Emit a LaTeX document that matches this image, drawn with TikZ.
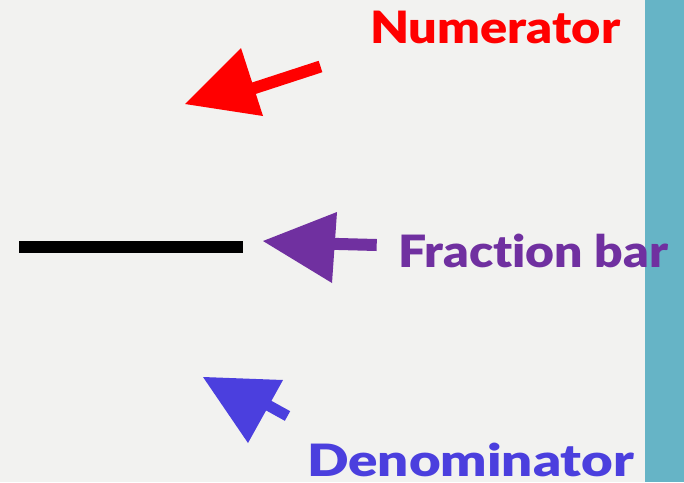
\documentclass[tikz,border=0pt]{standalone}
\usepackage{fontspec}
\setmainfont{Lato}[UprightFont=* Black, Ligatures=NoCommon]
\usepackage{graphicx}
\definecolor{bg}{HTML}{F2F2F0}
\definecolor{strip}{HTML}{66B4C6}
\definecolor{numred}{HTML}{FF0000}
\definecolor{fracpurple}{HTML}{7030A0}
\definecolor{denblue}{HTML}{4B3FDE}
\tikzset{
  lbl/.style={inner sep=0pt, anchor=base west, font=\fontsize{44.5}{50}\selectfont},
  shaft/.style={line width=12pt, line cap=butt},
}
\begin{document}
\begin{tikzpicture}[x=1pt,y=-1pt]
\useasboundingbox (0,0) rectangle (684,482);
\fill[bg] (0,0) rectangle (684,482);
\fill[strip] (645,0) rectangle (684,482);
% fraction bar
\fill[black] (19,241) rectangle (243,253);
% red arrow
\coordinate (rt) at (320.5,66.5);
\coordinate (rj) at (250,89.5);
\draw[shaft, numred] (rt) -- (rj);
\fill[numred] (185,104) -- (241,48) -- (263,116) -- cycle;
% purple arrow
\coordinate (pt) at (376.7,245);
\coordinate (pj) at (320,243.5);
\draw[shaft, fracpurple] (pt) -- (pj);
\fill[fracpurple] (263,241) -- (337,212) -- (332,283) -- cycle;
% blue arrow
\coordinate (bt) at (287.5,416);
\coordinate (bj) at (255,398);
\draw[line width=11pt, denblue] (bt) -- (bj);
\fill[denblue] (248,443) -- (203,377) -- (283,380) -- cycle;
% labels
\node[lbl, text=numred] (num) at (370,43) {\resizebox{250pt}{\height}{Numerator}};
\node[lbl, text=fracpurple] (frac) at (398,267) {\resizebox{270pt}{\height}{Fraction bar}};
\node[lbl, text=denblue] (den) at (307,476.5) {\resizebox{327pt}{\height}{Denominator}};
\end{tikzpicture}
\end{document}
